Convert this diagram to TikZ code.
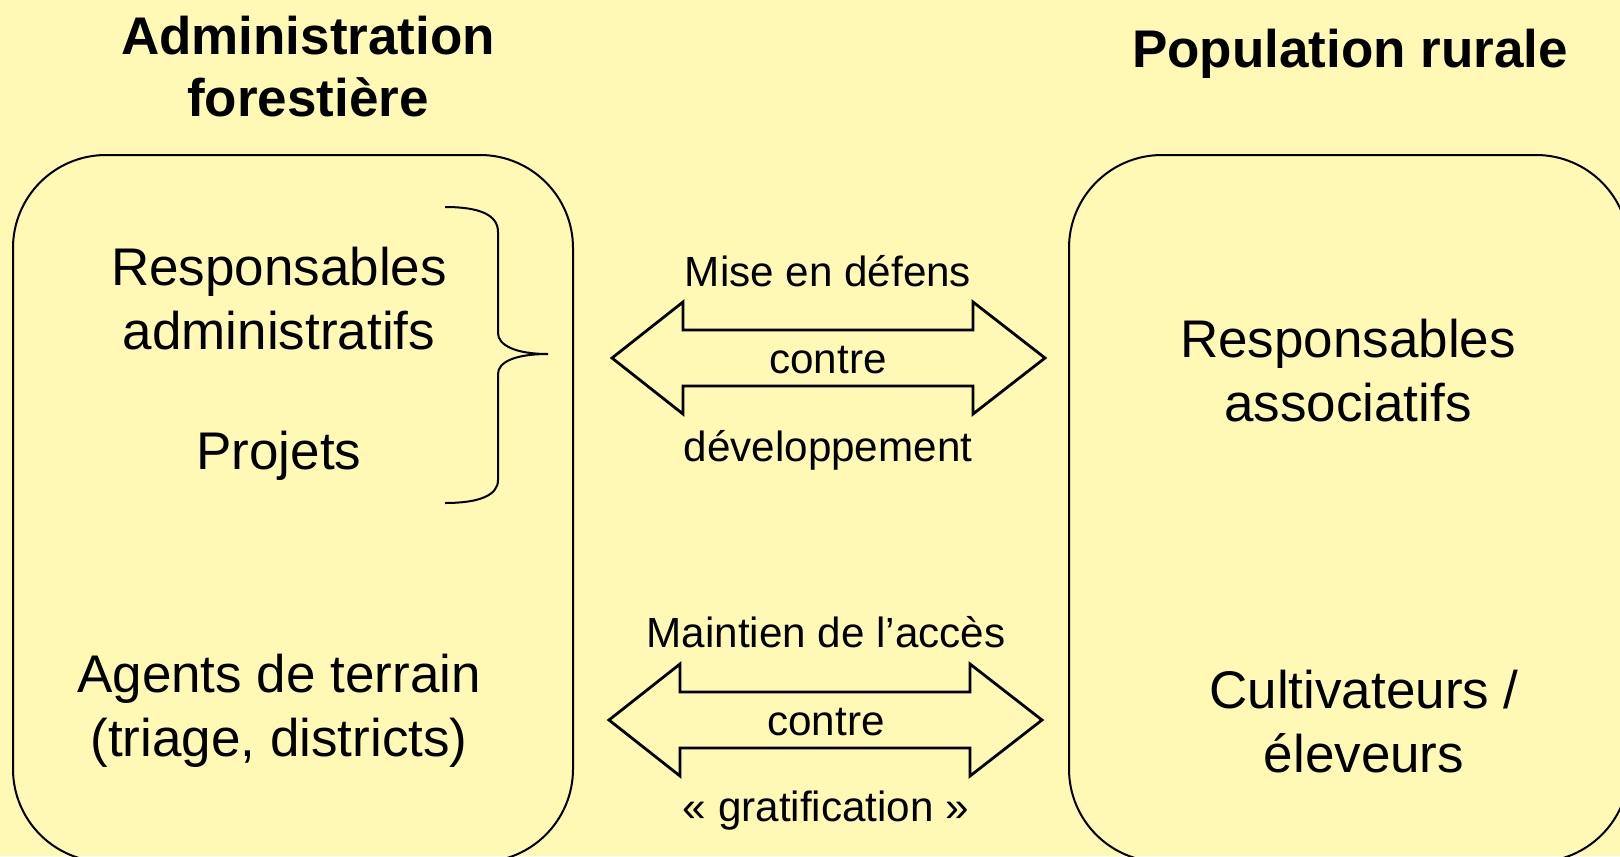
\documentclass[tikz,border=0pt]{standalone}
\usepackage{fontspec}
\setmainfont{Liberation Sans}
\usetikzlibrary{calc}
\definecolor{paper}{RGB}{255,249,181}
\tikzset{
	title/.style={font=\fontsize{26.5}{31}\selectfont\bfseries, align=center},
	body/.style={font=\fontsize{26.5}{32}\selectfont, align=center},
	small/.style={font=\fontsize{21.1}{25}\selectfont},
	frame/.style={line width=1pt, rounded corners=46.5pt},
	swap/.style={line width=1.4pt, line join=miter},
}
\def\swaparrow(#1,#2){\draw[swap] (#1,#2) -- ++(71,-56) -- ++(0,28) -- ++(290,0) -- ++(0,-28) -- ++(72,56) -- ++(-72,56) -- ++(0,-28) -- ++(-290,0) -- ++(0,28) -- cycle;}

\begin{document}
\begin{tikzpicture}[x=0.5pt, y=-0.5pt]
		%%%%% START %%%%%
		
		\fill[paper] (0, 0) rectangle (1620, 856);
		\clip (0, 0) rectangle (1620, 856);
		
		\node[title] (admin) at (308, 67) {Administration\\forestière};
		\node[title] (popul) at (1350, 54) {Population rurale};
		
		\draw[frame] (13, 155) rectangle (573, 862);
		\draw[frame] (1069, 155) rectangle (1629, 862);
		
		\node[body] (resp) at (279, 299) {Responsables\\administratifs};
		\node[body] (proj) at (279, 456) {Projets};
		\node[body] (agents) at (279, 711) {Agents de terrain\\(triage, districts)};
		
		\draw[line width=1pt] (445, 207) .. controls (480, 207) and (498, 215) .. (498, 232) -- (498, 333)
			.. controls (498, 345) and (515, 354) .. (548, 354)
			.. controls (515, 354) and (498, 362) .. (498, 374) -- (498, 480)
			.. controls (498, 495) and (480, 503) .. (445, 503);
		
		\node[body] (assoc) at (1348, 371) {Responsables\\associatifs};
		\node[body] (cultiv) at (1364, 722) {Cultivateurs /\\éleveurs};
		
		\swaparrow(612, 358)
		\node[small] (defens) at (828, 271) {Mise en défens};
		\node[small] (contreA) at (828, 360) {contre};
		\node[small] (devel) at (828, 450) {développement};
		
		\swaparrow(609, 720)
		\node[small] (acces) at (826, 632) {Maintien de l’accès};
		\node[small] (contreB) at (826, 722) {contre};
		\node[small] (grat) at (826, 811) {« gratification »};
		
		%%%%% END %%%%%
\end{tikzpicture}
\end{document}
